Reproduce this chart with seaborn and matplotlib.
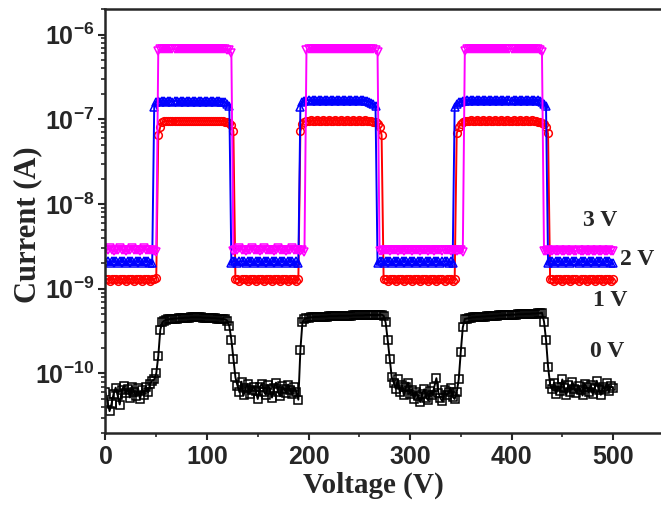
import numpy as np
import matplotlib
matplotlib.use('Agg')
import matplotlib.pyplot as plt
import seaborn as sns
from matplotlib.ticker import FixedLocator, FuncFormatter, LogLocator, MultipleLocator, NullFormatter

# x grid of the sweep (V)
voltage = np.arange(0, 501, 2)

# 0 V bias, units of 1e-11 A
current_0v = np.array([
    6.0, 4.6, 3.6, 4.4, 5.8, 6.8, 5.5, 4.3, 6.3, 7.1, 5.9, 6.6, 5.2, 7.0, 6.1, 5.4,
    6.7, 5.0, 6.4, 5.6, 6.9, 6.0, 7.6, 8.2,
    8.5,
    10, 16, 33, 40, 42, 43,
    43.5, 44, 44, 44.5, 44.5, 45, 45, 45, 45.5, 45.5, 45.5, 46, 46, 46, 46, 46, 46,
    45.5, 45.5, 45.5, 45.5, 45, 45, 45, 44.5, 44.5, 44, 44, 43.5,
    42, 36, 25, 15, 9.0,
    7.2, 6.0, 8.0, 5.5, 6.8, 7.5, 5.8, 6.4, 7.0, 6.2, 5.0, 6.9, 7.6, 6.1, 5.6, 7.3,
    6.5, 5.2, 6.8, 7.8, 6.0, 5.4, 7.1, 6.6, 5.9, 7.4, 6.3, 5.7, 6.9, 6.1,
    4.9,
    19, 40, 44,
    45, 45.5, 46, 46, 46.5, 46.5, 46.5, 47, 47, 47, 47, 47.5, 47.5, 47.5, 47.5, 47.5,
    48, 48, 48, 48, 48, 48, 48, 48.5, 48.5, 48.5, 48.5, 48.5, 48.5, 49, 49, 49, 49,
    49, 49, 49, 49, 49.5,
    48, 40, 25, 15, 9.0,
    7.8, 6.6, 8.5, 6.0, 7.3, 5.5, 6.9, 7.8, 5.8, 6.4, 5.0, 6.0, 5.4, 4.6, 5.8, 6.5,
    5.2, 4.8, 6.2, 5.6, 7.0, 8.8, 5.9, 5.1, 4.7, 6.3, 5.5, 6.0, 6.8, 5.3, 5.0,
    6.0, 8.5, 18, 35, 44,
    44.5, 45, 45.5, 46, 46, 46.5, 46.5, 47, 47, 47, 47.5, 47.5, 47.5, 48, 48, 48,
    48.5, 48.5, 48.5, 49, 49, 49, 49.5, 49.5, 49.5, 50, 50, 50, 50, 50.5, 50.5, 50.5,
    51, 51, 51, 51.5, 51.5,
    52, 41, 25, 12, 7.5,
    6.5, 7.8, 5.8, 7.0, 6.2, 8.5, 6.8, 5.6, 7.4, 6.1, 8.0, 6.6, 5.9, 7.2, 6.4, 5.5,
    7.6, 6.9, 6.0, 7.3, 5.7, 6.8, 8.2, 6.3, 5.6, 7.0, 6.5, 7.8, 6.2, 7.1, 6.7,
]) * 1e-11

# 1 V bias, units of 1e-9 A
current_1v = np.array([
    1.3, 1.3, 1.25, 1.3, 1.3, 1.3, 1.25, 1.3, 1.3, 1.3, 1.25, 1.3, 1.3, 1.3, 1.25,
    1.3, 1.3, 1.3, 1.25, 1.3, 1.3, 1.3, 1.25, 1.3, 1.3, 1.35,
    65, 82,
    92, 95, 96, 95, 96, 96, 95, 96, 96, 95, 96, 96, 95, 96, 96, 95, 96, 96, 95, 96,
    96, 95, 96, 96, 95, 96, 96, 95, 96, 95, 95, 94, 92, 90, 85,
    72,
    1.3, 1.3, 1.25, 1.3, 1.3, 1.3, 1.25, 1.3, 1.3, 1.3, 1.25, 1.3, 1.3, 1.3, 1.25,
    1.3, 1.3, 1.3, 1.25, 1.3, 1.3, 1.3, 1.25, 1.3, 1.3, 1.3, 1.25, 1.3, 1.3, 1.3,
    1.25, 1.3,
    72,
    88, 94, 96, 96, 97, 96, 96, 97, 96, 96, 97, 96, 96, 97, 96, 96, 97, 96, 96, 97,
    96, 96, 97, 96, 96, 97, 96, 96, 97, 96, 96, 97, 96, 96, 95, 94, 92, 88, 82,
    65,
    1.3, 1.3, 1.25, 1.3, 1.3, 1.3, 1.25, 1.3, 1.3, 1.3, 1.25, 1.3, 1.3, 1.3, 1.25,
    1.3, 1.3, 1.3, 1.25, 1.3, 1.3, 1.3, 1.25, 1.3, 1.3, 1.3, 1.25, 1.3, 1.3, 1.3,
    1.25, 1.3, 1.3, 1.3, 1.25, 1.3,
    68, 80,
    88, 92, 95, 96, 96, 97, 96, 96, 97, 96, 96, 97, 96, 96, 97, 96, 96, 97, 96, 96,
    97, 96, 96, 97, 96, 96, 97, 96, 96, 97, 96, 96, 97, 96, 96, 97, 96, 95, 94, 92,
    90, 88,
    80, 68,
    1.3, 1.3, 1.25, 1.3, 1.3, 1.3, 1.25, 1.3, 1.3, 1.3, 1.25, 1.3, 1.3, 1.3, 1.25,
    1.3, 1.3, 1.3, 1.25, 1.3, 1.3, 1.3, 1.25, 1.3, 1.3, 1.3, 1.25, 1.3, 1.3, 1.3,
    1.25, 1.3,
]) * 1e-9

# 2 V bias, units of 1e-9 A
current_2v = np.array([
    2.1, 2.1, 2.0, 2.1, 2.1, 2.1, 2.0, 2.1, 2.1, 2.1, 2.0, 2.1, 2.1, 2.1, 2.0, 2.1,
    2.1, 2.1, 2.0, 2.1, 2.1, 2.1, 2.0, 2.0,
    140, 160, 165, 162, 165, 165, 162, 165, 165, 162, 165, 165, 162, 165, 165, 162,
    165, 165, 162, 165, 165, 162, 165, 165, 162, 165, 165, 162, 165, 165, 162, 165,
    165, 162, 160, 158, 150, 145,
    2.0, 2.1, 2.1, 2.0, 2.1, 2.1, 2.1, 2.0, 2.1, 2.1, 2.1, 2.0, 2.1, 2.1, 2.1, 2.0,
    2.1, 2.1, 2.1, 2.0, 2.1, 2.1, 2.1, 2.0, 2.1, 2.1, 2.1, 2.0, 2.1, 2.1, 2.1, 2.0,
    2.1, 2.0,
    140, 158, 165, 168, 168, 165, 168, 168, 165, 168, 168, 165, 168, 168, 165, 168,
    168, 165, 168, 168, 165, 168, 168, 165, 168, 168, 165, 168, 168, 165, 168, 168,
    165, 165, 160, 155, 150, 145,
    2.0, 2.1, 2.1, 2.0, 2.1, 2.1, 2.1, 2.0, 2.1, 2.1, 2.1, 2.0, 2.1, 2.1, 2.1, 2.0,
    2.1, 2.1, 2.1, 2.0, 2.1, 2.1, 2.1, 2.0, 2.1, 2.1, 2.1, 2.0, 2.1, 2.1, 2.1, 2.0,
    2.1, 2.1, 2.1, 2.0, 2.1, 2.0,
    140, 150, 158, 162, 165, 165, 168, 165, 168, 168, 165, 168, 168, 165, 168, 168,
    165, 168, 168, 165, 168, 168, 165, 168, 168, 165, 168, 168, 165, 168, 168, 165,
    168, 168, 165, 168, 168, 165, 168, 168, 165, 168, 165, 160, 150, 142,
    2.0, 2.1, 2.1, 2.0, 2.1, 2.1, 2.1, 2.0, 2.1, 2.1, 2.1, 2.0, 2.1, 2.1, 2.1, 2.0,
    2.1, 2.1, 2.1, 2.0, 2.1, 2.1, 2.1, 2.0, 2.1, 2.1, 2.1, 2.0, 2.1, 2.1, 2.1, 2.0,
    2.0,
]) * 1e-9

# 3 V bias, units of 1e-9 A
current_3v = np.array([
    2.9, 2.9, 3.0, 2.9, 2.8, 2.9, 2.9, 3.0, 2.9, 2.9, 2.8, 2.9, 2.9, 3.0, 2.9, 2.9,
    2.9, 2.8, 2.9, 3.0, 2.9, 2.9, 2.9, 2.9, 2.8, 2.7,
    640, 670, 675, 670, 670, 680, 670, 670, 675, 670, 670, 680, 670, 670, 675, 670,
    670, 670, 680, 670, 670, 675, 670, 670, 670, 680, 670, 670, 675, 670, 670, 670,
    675, 670, 665, 650, 610,
    2.8, 2.9, 2.9, 3.0, 2.9, 2.9, 2.8, 2.9, 2.9, 3.0, 2.9, 2.9, 2.9, 2.8, 2.9, 3.0,
    2.9, 2.9, 2.9, 2.9, 2.8, 2.9, 3.0, 2.9, 2.9, 2.9, 2.8, 2.9, 2.9, 3.0, 2.9, 2.9,
    2.9, 2.8, 2.9, 2.7,
    650, 675, 680, 675, 680, 680, 675, 680, 680, 675, 680, 680, 680, 675, 680, 680,
    680, 675, 680, 680, 675, 680, 680, 680, 675, 680, 680, 680, 675, 680, 680, 675,
    680, 670, 660, 620,
    2.8, 2.8, 2.9, 2.9, 2.9, 2.8, 2.9, 2.9, 2.9, 2.8, 2.9, 2.9, 2.8, 2.9, 2.9, 2.9,
    2.8, 2.9, 2.9, 2.9, 2.8, 2.9, 2.9, 2.9, 2.8, 2.9, 2.9, 2.8, 2.9, 2.9, 2.9, 2.8,
    2.9, 2.9, 2.9, 2.8, 2.9, 2.9, 2.8, 2.9, 2.9, 2.7,
    640, 670, 675, 675, 680, 675, 675, 680, 675, 675, 680, 675, 675, 680, 675, 675,
    680, 675, 675, 680, 675, 675, 680, 675, 675, 680, 675, 675, 680, 675, 675, 680,
    675, 675, 680, 675, 670, 660, 620,
    2.8, 2.8, 2.9, 2.8, 2.8, 2.9, 2.8, 2.8, 2.9, 2.8, 2.8, 2.9, 2.8, 2.8, 2.9, 2.8,
    2.8, 2.9, 2.8, 2.8, 2.9, 2.8, 2.8, 2.9, 2.8, 2.8, 2.9, 2.8, 2.8, 2.9, 2.8, 2.8,
    2.9, 2.8, 2.8,
]) * 1e-9

y_ticks = [1e-10, 1e-9, 1e-8, 1e-7, 1e-6]
x_ticks = [0, 100, 200, 300, 400, 500]
bias_labels = ['0 V', '1 V', '2 V', '3 V']
label_x = [494, 497, 523.6, 487]
label_y = [1.81e-10, 7.3e-10, 2.2e-9, 6.46e-9]
colors = ['black', '#ff0000', '#0000ff', '#ff00ff']
markers = ['s', 'o', '^', 'v']

sns.set_style('ticks')
plt.rcParams['font.family'] = ['Liberation Sans', 'DejaVu Sans']
plt.rcParams['font.weight'] = 'bold'
plt.rcParams['mathtext.fontset'] = 'custom'
plt.rcParams['mathtext.rm'] = 'Liberation Sans:bold'
plt.rcParams['mathtext.bf'] = 'Liberation Sans:bold'

fig = plt.figure(figsize=(6.61, 5.08), dpi=100)
ax = fig.add_axes([0.1596, 0.1482, 0.8446, 0.834])

all_series = [current_0v, current_1v, current_2v, current_3v]
for cur, col, mk in zip(all_series, colors, markers):
    sns.lineplot(x=voltage, y=cur, ax=ax, color=col, marker=mk, markersize=5.5,
                 markerfacecolor='none', markeredgecolor=col, markeredgewidth=1.1,
                 linewidth=1.4, estimator=None, sort=False, legend=False)

ax.set_yscale('log')
ax.set_xlim(0, 550)
ax.set_ylim(2e-11, 2e-6)

ax.xaxis.set_major_locator(FixedLocator(x_ticks))
ax.xaxis.set_minor_locator(MultipleLocator(50))
ax.yaxis.set_major_locator(FixedLocator(y_ticks))
ax.yaxis.set_minor_locator(LogLocator(base=10, subs=np.arange(2, 10)))
ax.yaxis.set_minor_formatter(NullFormatter())
ax.yaxis.set_major_formatter(FuncFormatter(
    lambda v, p: r'$\mathbf{10^{%d}}$' % round(np.log10(v))))

ax.tick_params(axis='both', which='major', direction='out', length=5, width=1.5,
               labelsize=18, pad=4)
ax.tick_params(axis='both', which='minor', direction='out', length=3, width=1.2)
ax.tick_params(axis='y', which='major', labelsize=18, pad=3)

for side in ['left', 'bottom', 'top']:
    ax.spines[side].set_linewidth(1.8)
ax.spines['right'].set_visible(False)

ax.set_xlabel('Voltage (V)', fontfamily='Liberation Serif', fontweight='bold', fontsize=21)
ax.set_ylabel('Current (A)', fontfamily='Liberation Serif', fontweight='bold', fontsize=22)
ax.xaxis.label.set_va('center')
ax.yaxis.label.set_va('center')
ax.xaxis.set_label_coords(0.479, -0.124)
ax.yaxis.set_label_coords(-0.139, 0.49)

for txt, tx, ty in zip(bias_labels, label_x, label_y):
    ax.text(tx, ty, txt, fontfamily='Liberation Serif', fontweight='bold',
            fontsize=17, ha='center', va='center')

fig.savefig('out.png', dpi=100, facecolor='white')
